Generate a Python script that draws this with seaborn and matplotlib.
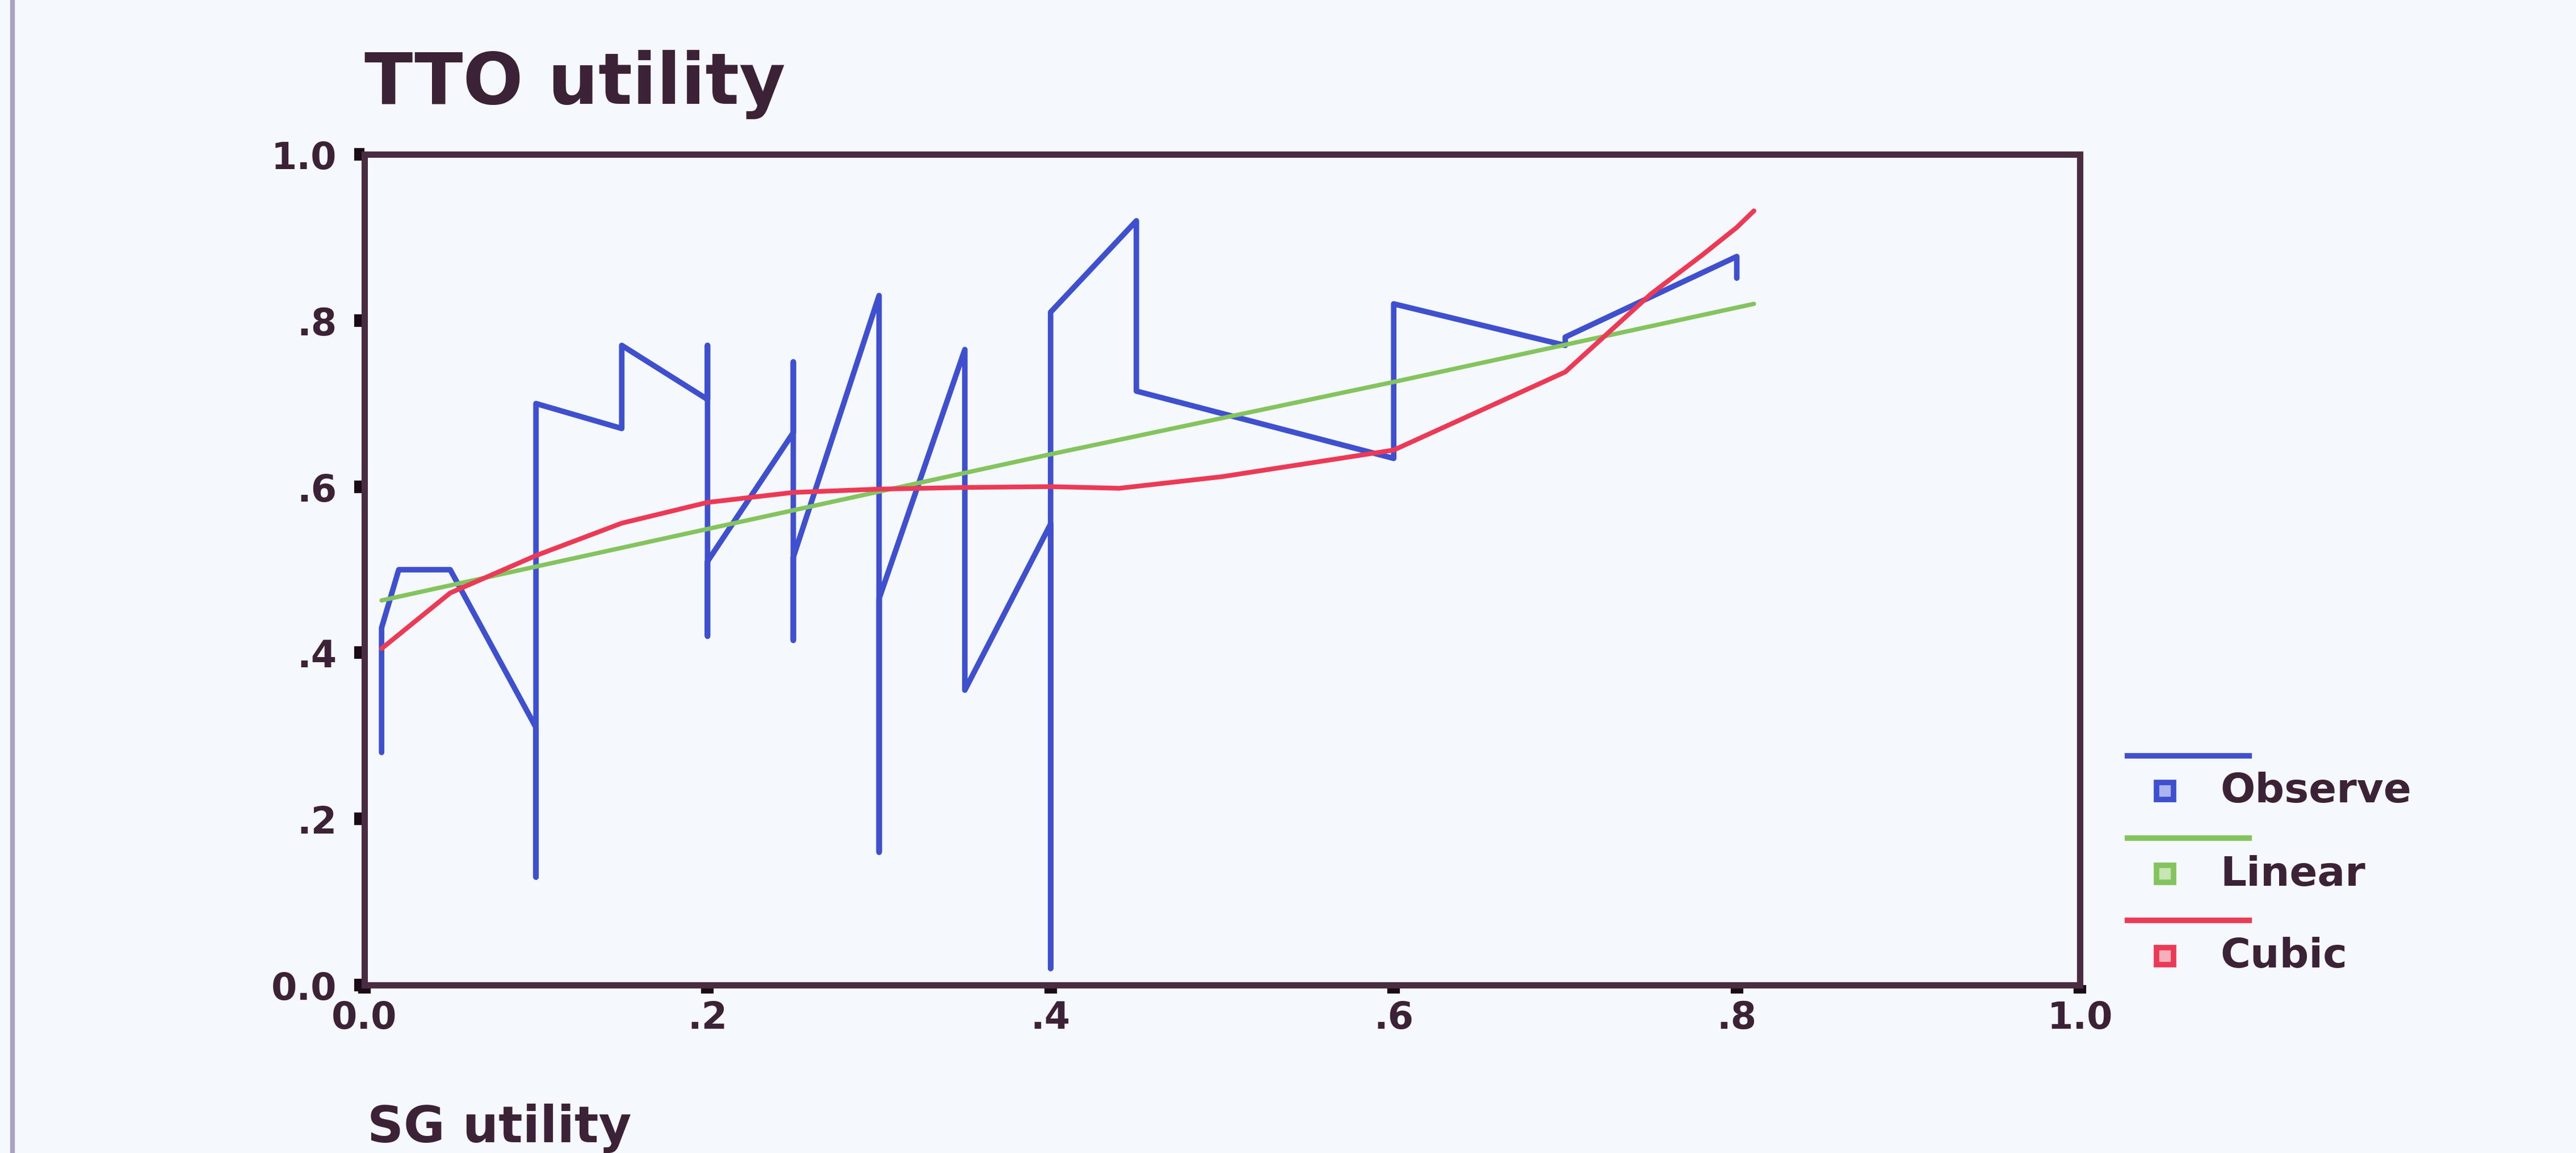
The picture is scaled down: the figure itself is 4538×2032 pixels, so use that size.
import matplotlib
matplotlib.use("Agg")
import matplotlib.pyplot as plt
from matplotlib.lines import Line2D
import seaborn as sns

# Observed TTO utility against SG utility, in recorded order
sg_observed = [0.01, 0.01, 0.02, 0.05, 0.10, 0.10, 0.10, 0.15, 0.15,
               0.20, 0.20, 0.20, 0.20, 0.25, 0.25, 0.25, 0.25,
               0.30, 0.30, 0.30, 0.35, 0.35, 0.40, 0.40, 0.40,
               0.45, 0.45, 0.60, 0.60, 0.70, 0.70, 0.80, 0.80]
tto_observed = [0.28, 0.43, 0.50, 0.50, 0.31, 0.13, 0.70, 0.67, 0.77,
                0.705, 0.77, 0.42, 0.51, 0.665, 0.75, 0.415, 0.515,
                0.83, 0.16, 0.465, 0.765, 0.355, 0.555, 0.02, 0.81,
                0.92, 0.715, 0.634, 0.82, 0.77, 0.78, 0.877, 0.851]

# Linear fit
sg_linear = [0.01, 0.20, 0.40, 0.60, 0.81]
tto_linear = [0.463, 0.549, 0.639, 0.726, 0.820]

# Cubic fit
sg_cubic = [0.01, 0.05, 0.10, 0.15, 0.20, 0.25, 0.30, 0.35, 0.40, 0.44,
            0.50, 0.60, 0.70, 0.75, 0.78, 0.80, 0.81]
tto_cubic = [0.405, 0.472, 0.517, 0.556, 0.581, 0.593, 0.597, 0.599, 0.600, 0.598,
             0.612, 0.644, 0.738, 0.832, 0.879, 0.912, 0.932]

x_ticks = [0.0, 0.2, 0.4, 0.6, 0.8, 1.0]
x_tick_labels = ["0.0", ".2", ".4", ".6", ".8", "1.0"]
y_ticks = [0.0, 0.2, 0.4, 0.6, 0.8, 1.0]
y_tick_labels = ["0.0", ".2", ".4", ".6", ".8", "1.0"]

series_names = ["Observe", "Linear", "Cubic"]

BG = "#f5f8fc"
AXIS = "#4a2c42"
TEXT = "#3c2236"
BLUE = "#3f50cf"
GREEN = "#84c45e"
RED = "#ec3a56"
TINTS = ["#aab4ee", "#c6e6b4", "#f6b0bc"]

sns.set_theme(style="white")
plt.rcParams["font.family"] = ["DejaVu Sans"]
plt.rcParams["font.weight"] = "bold"

W, H, DPI = 4538, 2033, 100
fig = plt.figure(figsize=(W / DPI, H / DPI), dpi=DPI, facecolor=BG)

# axes box in pixel terms: left 642, right 3664, top 273, bottom 1737
ax_left, ax_right, ax_top, ax_bottom = 642, 3664, 273, 1737
ax = fig.add_axes([ax_left / W, 1 - ax_bottom / H,
                   (ax_right - ax_left) / W, (ax_bottom - ax_top) / H])
ax.set_facecolor(BG)

sns.lineplot(x=sg_observed, y=tto_observed, sort=False, estimator=None,
             color=BLUE, lw=7.0, ax=ax, legend=False)
sns.lineplot(x=sg_linear, y=tto_linear, sort=False, estimator=None,
             color=GREEN, lw=5.5, ax=ax, legend=False)
sns.lineplot(x=sg_cubic, y=tto_cubic, sort=False, estimator=None,
             color=RED, lw=6.0, ax=ax, legend=False)

ax.set_xlim(0, 1)
ax.set_ylim(0, 1)
ax.set_xticks(x_ticks, x_tick_labels)
ax.set_yticks(y_ticks, y_tick_labels)

for sp in ax.spines.values():
    sp.set_visible(True)
    sp.set_color(AXIS)
    sp.set_linewidth(8)

ax.tick_params(axis="both", which="major", direction="out", color="#1a0c16",
               labelcolor=TEXT, labelsize=47)
ax.tick_params(axis="y", length=13, width=16, pad=22, left=True)
ax.tick_params(axis="x", length=11, width=16, pad=8, bottom=True)
ax.grid(False)

# axis titles: y title above the axis, x title below at the left
ax.set_ylabel("TTO utility", rotation=0, fontsize=90, color=TEXT,
              fontweight="bold", ha="left", va="baseline")
ax.yaxis.set_label_coords(0.0, (ax_bottom - 183) / (ax_bottom - ax_top))
ax.set_xlabel("SG utility", fontsize=64, color=TEXT, fontweight="bold",
              ha="left", va="baseline")
ax.xaxis.set_label_coords(5 / (ax_right - ax_left),
                          (ax_bottom - 2013) / (ax_bottom - ax_top))

# legend: a line sample above each marker + name row
line_rows = [1333, 1478, 1623]
text_rows = [1395, 1541, 1686]
for name, col, tint, ly, ty in zip(series_names, [BLUE, GREEN, RED], TINTS,
                                   line_rows, text_rows):
    fig.add_artist(Line2D([3743 / W, 3967 / W], [1 - ly / H, 1 - ly / H],
                          color=col, lw=7, solid_capstyle="butt"))
    fig.add_artist(Line2D([3814 / W], [1 - ty / H], marker="s", ms=21,
                          mfc=tint, mec=col, mew=7, lw=0))
    fig.text(3911 / W, 1 - ty / H, name, fontsize=52, color=TEXT,
             fontweight="bold", ha="left", va="center")

# frame edge at the far left
fig.add_artist(Line2D([22 / W, 22 / W], [0, 1], color="#a89fc2", lw=6))

fig.savefig("out.png", dpi=DPI, facecolor=BG)
